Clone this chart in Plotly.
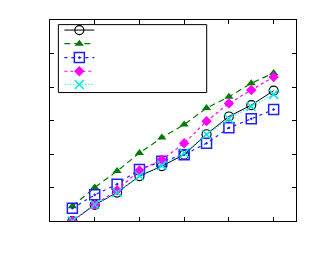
import plotly.graph_objects as go

x_vals = [1, 2, 3, 4, 5, 6, 7, 8, 9, 10]
series_black = [0.0, 0.48, 0.85, 1.34, 1.64, 1.98, 2.59, 3.12, 3.46, 3.89]
series_green = [0.44, 1.00, 1.49, 2.03, 2.49, 2.88, 3.37, 3.71, 4.11, 4.42]
series_blue = [0.38, 0.78, 1.10, 1.54, 1.78, 1.98, 2.32, 2.78, 3.05, 3.33]
series_magenta = [0.0, 0.49, 0.92, 1.51, 1.83, 2.32, 2.98, 3.51, 3.91, 4.30]
series_cyan = [0.0, 0.49, 0.85, 1.35, 1.66, 2.03, 2.58, 3.05, 3.42, 3.78]
x_ticks = [2, 4, 6, 8, 10]
y_ticks = [1, 2, 3, 4, 5]
names = [" ", " ", " ", " ", " "]

legend_ids = ["legend", "legend2", "legend3", "legend4", "legend5"]
legend_y = [0.950, 0.882, 0.813, 0.745, 0.679]

fig = go.Figure()
fig.add_trace(go.Scatter(x=x_vals, y=series_black, name=names[0], mode="lines+markers", legend=legend_ids[0],
                         line=dict(color="black", width=1),
                         marker=dict(symbol="circle-open", size=9, color="black", line=dict(width=1.2))))
fig.add_trace(go.Scatter(x=x_vals, y=series_green, name=names[1], mode="lines+markers", legend=legend_ids[1],
                         line=dict(color="#007a00", width=1.2, dash="6px,4px"),
                         marker=dict(symbol="triangle-up", size=8, color="#007a00")))
fig.add_trace(go.Scatter(x=x_vals, y=series_blue, name=names[2], mode="lines+markers", legend=legend_ids[2],
                         line=dict(color="#2020ff", width=1.2, dash="3px,4px"),
                         marker=dict(symbol="square-open-dot", size=10, color="#2020ff", line=dict(width=1.5))))
fig.add_trace(go.Scatter(x=x_vals, y=series_magenta, name=names[3], mode="lines+markers", legend=legend_ids[3],
                         line=dict(color="#ff00ff", width=1.2, dash="3px,3px"),
                         marker=dict(symbol="diamond", size=8, color="#ff00ff")))
fig.add_trace(go.Scatter(x=x_vals, y=series_cyan, name=names[4], mode="lines+markers", legend=legend_ids[4],
                         line=dict(color="#00e5e5", width=1.2, dash="1px,2px"),
                         marker=dict(symbol="x-thin-open", size=9, color="#00e5e5", line=dict(width=1.5, color="#00e5e5"))))

axis_common = dict(showgrid=False, zeroline=False, showline=True, linecolor="black", linewidth=1,
                   mirror="ticks", ticks="inside", ticklen=4, tickcolor="black", tickwidth=1,
                   showticklabels=False)
fig.update_xaxes(range=[0, 11], tickvals=x_ticks, **axis_common)
fig.update_yaxes(range=[0, 6], tickvals=y_ticks, **axis_common)

fig.add_shape(type="rect", xref="paper", yref="paper", x0=0.034, x1=0.637, y0=0.639, y1=0.977,
              line=dict(color="black", width=1), fillcolor="rgba(0,0,0,0)")

legend_style = dict(x=0.038, xanchor="left", yanchor="middle", bgcolor="rgba(0,0,0,0)",
                    borderwidth=0, font=dict(size=8), itemwidth=30)
layout_legends = {lid: dict(y=ly, **legend_style) for lid, ly in zip(legend_ids, legend_y)}

fig.update_layout(
    width=305, height=255,
    margin=dict(l=42, r=17, t=8, b=42),
    paper_bgcolor="white", plot_bgcolor="white",
    showlegend=True,
    **layout_legends,
)

fig.write_html("out.html")
